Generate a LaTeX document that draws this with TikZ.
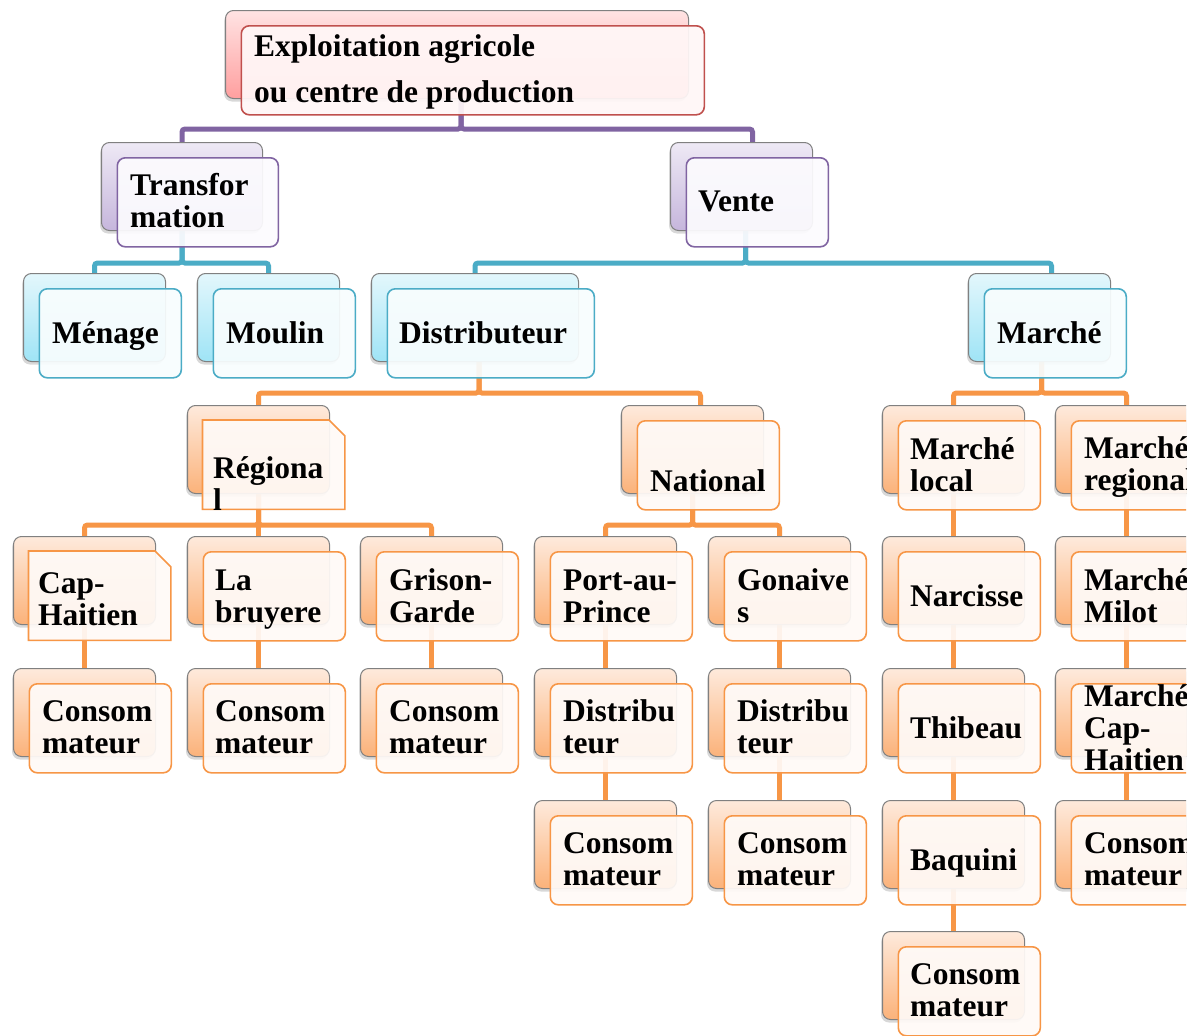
\documentclass[tikz,border=0pt]{standalone}
\usepackage{fontspec}
\setmainfont{Liberation Serif}
\usetikzlibrary{shadows}
\pgfdeclarelayer{bgw}
\pgfdeclarelayer{bg}
\pgfsetlayers{bgw,bg,main}
\definecolor{cRed}{HTML}{C0504D}
\definecolor{cPur}{HTML}{8064A2}
\definecolor{cTeal}{HTML}{4BACC6}
\definecolor{cOr}{HTML}{F79646}
\definecolor{rTop}{HTML}{FFE3E3}\definecolor{rBot}{HTML}{FF9F9F}
\definecolor{pTop}{HTML}{EEE9F5}\definecolor{pBot}{HTML}{C6B6DC}
\definecolor{tTop}{HTML}{E3F7FC}\definecolor{tBot}{HTML}{9FE4F6}
\definecolor{oTop}{HTML}{FEEADC}\definecolor{oBot}{HTML}{FBB27A}
\definecolor{rFr}{HTML}{FFF7F7}
\definecolor{pFr}{HTML}{FCFBFE}
\definecolor{tFr}{HTML}{F8FDFE}
\definecolor{oFr}{HTML}{FFFAF7}
\tikzset{
  backcard/.style={draw=black!50, line width=1pt, rounded corners=8pt, anchor=north west,
    minimum height=88pt, inner sep=0pt,
    drop shadow={shadow xshift=-1.5pt, shadow yshift=-3pt, opacity=.3}},
  backR/.style={backcard, top color=rTop, bottom color=rBot},
  backP/.style={backcard, top color=pTop, bottom color=pBot},
  backT/.style={backcard, top color=tTop, bottom color=tBot},
  backO/.style={backcard, top color=oTop, bottom color=oBot},
  frontcard/.style={rounded corners=8pt, line width=1.6pt, anchor=north west,
    minimum height=89pt, inner sep=0pt, fill opacity=.93},
  frontR/.style={frontcard, draw=cRed, fill=rFr},
  frontP/.style={frontcard, draw=cPur, fill=pFr},
  frontT/.style={frontcard, draw=cTeal, fill=tFr},
  frontO/.style={frontcard, draw=cOr, fill=oFr},
  txt/.style={anchor=west, align=left, inner sep=0pt, font=\fontsize{31.5}{32}\selectfont\bfseries},
  conn/.style={line width=5pt, rounded corners=3pt},
}
\newcommand\crd[5]{%
  \node[back#2, minimum width=#5pt] (b#1) at (#3,#4) {};
  \node[front#2, minimum width=#5pt] (f#1) at ([shift={(15.5,15)}]b#1.north west) {};}
\newcommand\snipcrd[4]{%
  \node[back#2, minimum width=142pt] (b#1) at (#3,#4) {};
  \node[anchor=north west, minimum width=142pt, minimum height=89pt, inner sep=0pt] (f#1) at ([shift={(15.5,15)}]b#1.north west) {};
  \filldraw[draw=cOr, fill=oFr, fill opacity=.93, line width=1.6pt]
    (f#1.north west) -- ([xshift=-16pt]f#1.north east) -- ([yshift=-16pt]f#1.north east)
    -- (f#1.south east) -- (f#1.south west) -- cycle;}
\newcommand\lbl[4]{\node[txt] (t#1) at (#2,#3) {#4};}
\begin{document}
\begin{tikzpicture}[x=1pt,y=-1pt]
\useasboundingbox (0,0) rectangle (1197,1036);
\begin{pgfonlayer}{bgw}
\fill[white] (0,0) rectangle (1197,1036);
\end{pgfonlayer}
\begin{scope}
\clip (0,0) rectangle (1186,1036);
% level 0
\crd{top}{R}{225}{10}{463}
\node[txt, font=\fontsize{31.5}{46}\selectfont\bfseries] (ttop) at (254,72) {Exploitation agricole\\ou centre de production};
% level 1
\crd{trans}{P}{101}{142}{161}
\lbl{trans}{130}{201}{Transfor\\mation}
\crd{vente}{P}{670}{142}{142}
\lbl{vente}{698}{201}{Vente}
% level 2
\crd{men}{T}{23}{273}{142}
\lbl{men}{52}{336}{Ménage}
\crd{mou}{T}{197}{273}{142}
\lbl{mou}{226}{333}{Moulin}
\crd{dist}{T}{371}{273}{207}
\lbl{dist}{399}{333}{Distributeur}
\crd{mar}{T}{968}{273}{142}
\lbl{mar}{997}{333}{Marché}
% level 3
\snipcrd{reg}{O}{187}{405}
\lbl{reg}{213}{484}{Régiona\\l}
\crd{nat}{O}{621}{405}{142}
\lbl{nat}{650}{481}{National}
\crd{ml}{O}{882}{405}{142}
\lbl{ml}{910}{465}{Marché\\local}
\crd{mr}{O}{1055}{405}{142}
\lbl{mr}{1084}{467}{Marché\\regional}
% level 4
\snipcrd{cap}{O}{13}{536}
\lbl{cap}{38}{599}{Cap-\\Haitien}
\crd{lab}{O}{187}{536}{142}
\lbl{lab}{215}{600}{La\\bruyere}
\crd{gri}{O}{360}{536}{142}
\lbl{gri}{389}{596}{Grison-\\Garde}
\crd{pap}{O}{534}{536}{142}
\lbl{pap}{563}{596}{Port-au-\\Prince}
\crd{gon}{O}{708}{536}{142}
\lbl{gon}{737}{596}{Gonaive\\s}
\crd{nar}{O}{882}{536}{142}
\lbl{nar}{910}{596}{Narcisse}
\crd{mil}{O}{1055}{536}{142}
\lbl{mil}{1084}{596}{Marché\\Milot}
% level 5
\crd{ca}{O}{13}{668}{142}
\lbl{ca}{42}{727}{Consom\\mateur}
\crd{cb}{O}{187}{668}{142}
\lbl{cb}{215}{727}{Consom\\mateur}
\crd{cc}{O}{360}{668}{142}
\lbl{cc}{389}{727}{Consom\\mateur}
\crd{da}{O}{534}{668}{142}
\lbl{da}{563}{727}{Distribu\\teur}
\crd{db}{O}{708}{668}{142}
\lbl{db}{737}{727}{Distribu\\teur}
\crd{thi}{O}{882}{668}{142}
\lbl{thi}{910}{728}{Thibeau}
\crd{mch}{O}{1055}{668}{142}
\lbl{mch}{1084}{728}{Marché\\Cap-\\Haitien}
% level 6
\crd{cd}{O}{534}{800}{142}
\lbl{cd}{563}{859}{Consom\\mateur}
\crd{ce}{O}{708}{800}{142}
\lbl{ce}{737}{859}{Consom\\mateur}
\crd{baq}{O}{882}{800}{142}
\lbl{baq}{910}{863}{Baquini}
\crd{cg}{O}{1055}{800}{142}
\lbl{cg}{1084}{859}{Consom\\mateur}
% level 7
\crd{cf}{O}{882}{931}{142}
\lbl{cf}{910}{990}{Consom\\mateur}
\end{scope}
% connectors
\begin{pgfonlayer}{bg}
\draw[conn, cPur] ([xshift=4pt]btop.south) -- ++(0,30) -| (btrans.north);
\draw[conn, cPur] ([xshift=4pt]btop.south) -- ++(0,30) -| ([xshift=11pt]bvente.north);
\draw[conn, cTeal] (btrans.south) -- ++(0,32) -| (bmen.north);
\draw[conn, cTeal] (btrans.south) -- ++(0,32) -| (bmou.north);
\draw[conn, cTeal] ([xshift=4pt]bvente.south) -- ++(0,32) -| (bdist.north);
\draw[conn, cTeal] ([xshift=4pt]bvente.south) -- ++(0,32) -| ([xshift=12pt]bmar.north);
\draw[conn, cOr] ([xshift=4pt]bdist.south) -- ++(0,31) -| (breg.north);
\draw[conn, cOr] ([xshift=4pt]bdist.south) -- ++(0,31) -| ([xshift=8pt]bnat.north);
\draw[conn, cOr] ([xshift=2pt]bmar.south) -- ++(0,31) -| (bml.north);
\draw[conn, cOr] ([xshift=2pt]bmar.south) -- ++(0,31) -| (bmr.north);
\draw[conn, cOr] (breg.south) -- ++(0,31) -| (bcap.north);
\draw[conn, cOr] (breg.south) -- ++(0,31) -| (blab.north);
\draw[conn, cOr] (breg.south) -- ++(0,31) -| (bgri.north);
\draw[conn, cOr] (bnat.south) -- ++(0,31) -| (bpap.north);
\draw[conn, cOr] (bnat.south) -- ++(0,31) -| (bgon.north);
\draw[conn, cOr] (bcap.south) -- (bca.north);
\draw[conn, cOr] (blab.south) -- (bcb.north);
\draw[conn, cOr] (bgri.south) -- (bcc.north);
\draw[conn, cOr] (bpap.south) -- (bda.north);
\draw[conn, cOr] (bda.south) -- (bcd.north);
\draw[conn, cOr] (bgon.south) -- (bdb.north);
\draw[conn, cOr] (bdb.south) -- (bce.north);
\draw[conn, cOr] (bml.south) -- (bnar.north);
\draw[conn, cOr] (bnar.south) -- (bthi.north);
\draw[conn, cOr] (bthi.south) -- (bbaq.north);
\draw[conn, cOr] (bbaq.south) -- (bcf.north);
\draw[conn, cOr] (bmr.south) -- (bmil.north);
\draw[conn, cOr] (bmil.south) -- (bmch.north);
\draw[conn, cOr] (bmch.south) -- (bcg.north);
\end{pgfonlayer}
\end{tikzpicture}
\end{document}
